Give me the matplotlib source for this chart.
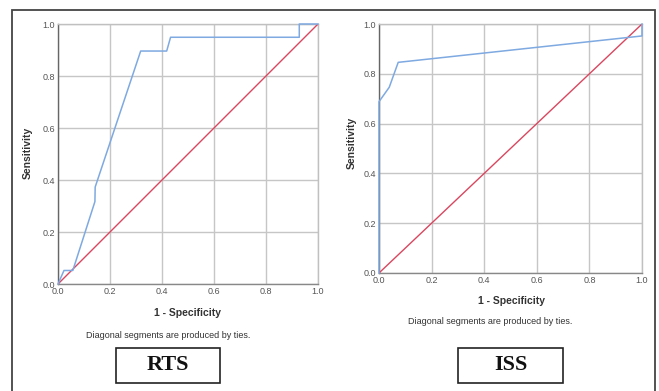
import matplotlib
matplotlib.use("Agg")
import matplotlib.pyplot as plt
from matplotlib.patches import Rectangle

# --- Data ---------------------------------------------------------------------
RTS_FPR  = [0.0, 0.023, 0.057, 0.142, 0.143, 0.318, 0.418, 0.433, 0.928, 0.928, 1.0]
RTS_TPR  = [0.0, 0.052, 0.052, 0.317, 0.373, 0.896, 0.896, 0.949, 0.949, 1.0, 1.0]
ISS_FPR  = [0.0, 0.0, 0.039, 0.073, 1.0, 1.0]
ISS_TPR  = [0.0, 0.688, 0.746, 0.846, 0.952, 1.0]
REF_LINE = [0.0, 1.0]
TICKS    = [0.0, 0.2, 0.4, 0.6, 0.8, 1.0]
TICK_LABELS = ["0.0", "0.2", "0.4", "0.6", "0.8", "1.0"]
PANEL_NAMES = ["RTS", "ISS"]

# --- Style --------------------------------------------------------------------
W, H      = 659, 391
ROC_BLUE  = "#7ea9e1"
REF_RED   = "#d9475f"
GRID_GRAY = "#c6c6c6"
TEXT_GRAY = "#333333"
SANS      = ["Liberation Sans", "DejaVu Sans"]
SERIF     = ["Liberation Serif", "DejaVu Serif"]


def px_rect(x0, y0, x1, y1):
    """Pixel box (top-left origin) -> figure fraction [left, bottom, w, h]."""
    return [x0 / W, 1 - y1 / H, (x1 - x0) / W, (y1 - y0) / H]


def draw_roc(ax, fpr, tpr):
    ax.plot(REF_LINE, REF_LINE, color=REF_RED, lw=1.0, zorder=3)
    ax.plot(fpr, tpr, color=ROC_BLUE, lw=1.1, zorder=4, clip_on=False)
    ax.set_xlim(0, 1)
    ax.set_ylim(0, 1)
    ax.set_xticks(TICKS)
    ax.set_yticks(TICKS)
    ax.set_xticklabels(TICK_LABELS, fontsize=6.5, color="#555555", family=SANS)
    ax.set_yticklabels(TICK_LABELS, fontsize=6.5, color="#555555", family=SANS)
    ax.tick_params(length=0, pad=2)
    ax.grid(True, color=GRID_GRAY, lw=1.0)
    ax.set_axisbelow(True)
    for name, spine in ax.spines.items():
        spine.set_color("#c0c0c0")
        spine.set_linewidth(1.0)
    ax.spines["left"].set_color("#666666")
    ax.spines["bottom"].set_color("#888888")


fig = plt.figure(figsize=(W / 100, H / 100), dpi=100)
fig.patch.set_facecolor("white")

# outer frame
fig.patches.append(Rectangle((12 / W, -0.05), (655 - 12) / W, 1.05 - 10 / H,
                             transform=fig.transFigure, fill=False,
                             edgecolor="#444444", lw=1.3))

ax_rts = fig.add_axes(px_rect(58, 24, 318, 284))
ax_iss = fig.add_axes(px_rect(379, 24, 642, 273))
draw_roc(ax_rts, RTS_FPR, RTS_TPR)
draw_roc(ax_iss, ISS_FPR, ISS_TPR)

# axis titles and notes, placed in pixel coordinates
labels = [
    # (x, y, text, size, weight, rotation)
    (188, 313, "1 - Specificity", 7.5, "bold", 0),
    (511, 301, "1 - Specificity", 7.5, "bold", 0),
    (28, 153, "Sensitivity", 7.5, "bold", 90),
    (352, 143, "Sensitivity", 7.5, "bold", 90),
    (168, 335, "Diagonal segments are produced by ties.", 6.5, "normal", 0),
    (490, 322, "Diagonal segments are produced by ties.", 6.5, "normal", 0),
]
for x, y, text, size, weight, rot in labels:
    fig.text(x / W, 1 - y / H, text, fontsize=size, fontweight=weight,
             rotation=rot, ha="center", va="center", color=TEXT_GRAY, family=SANS)

# name boxes under each panel
boxes = [(116, 348, 220, 383), (458, 348, 563, 383)]
for name, (x0, y0, x1, y1) in zip(PANEL_NAMES, boxes):
    fig.patches.append(Rectangle((x0 / W, 1 - y1 / H), (x1 - x0) / W, (y1 - y0) / H,
                                 transform=fig.transFigure, fill=False,
                                 edgecolor="#222222", lw=1.2))
    fig.text((x0 + x1) / 2 / W, 1 - (y0 + y1) / 2 / H, name, fontsize=16,
             fontweight="bold", ha="center", va="center", color="#111111",
             family=SERIF)

fig.savefig("out.png", dpi=100)
